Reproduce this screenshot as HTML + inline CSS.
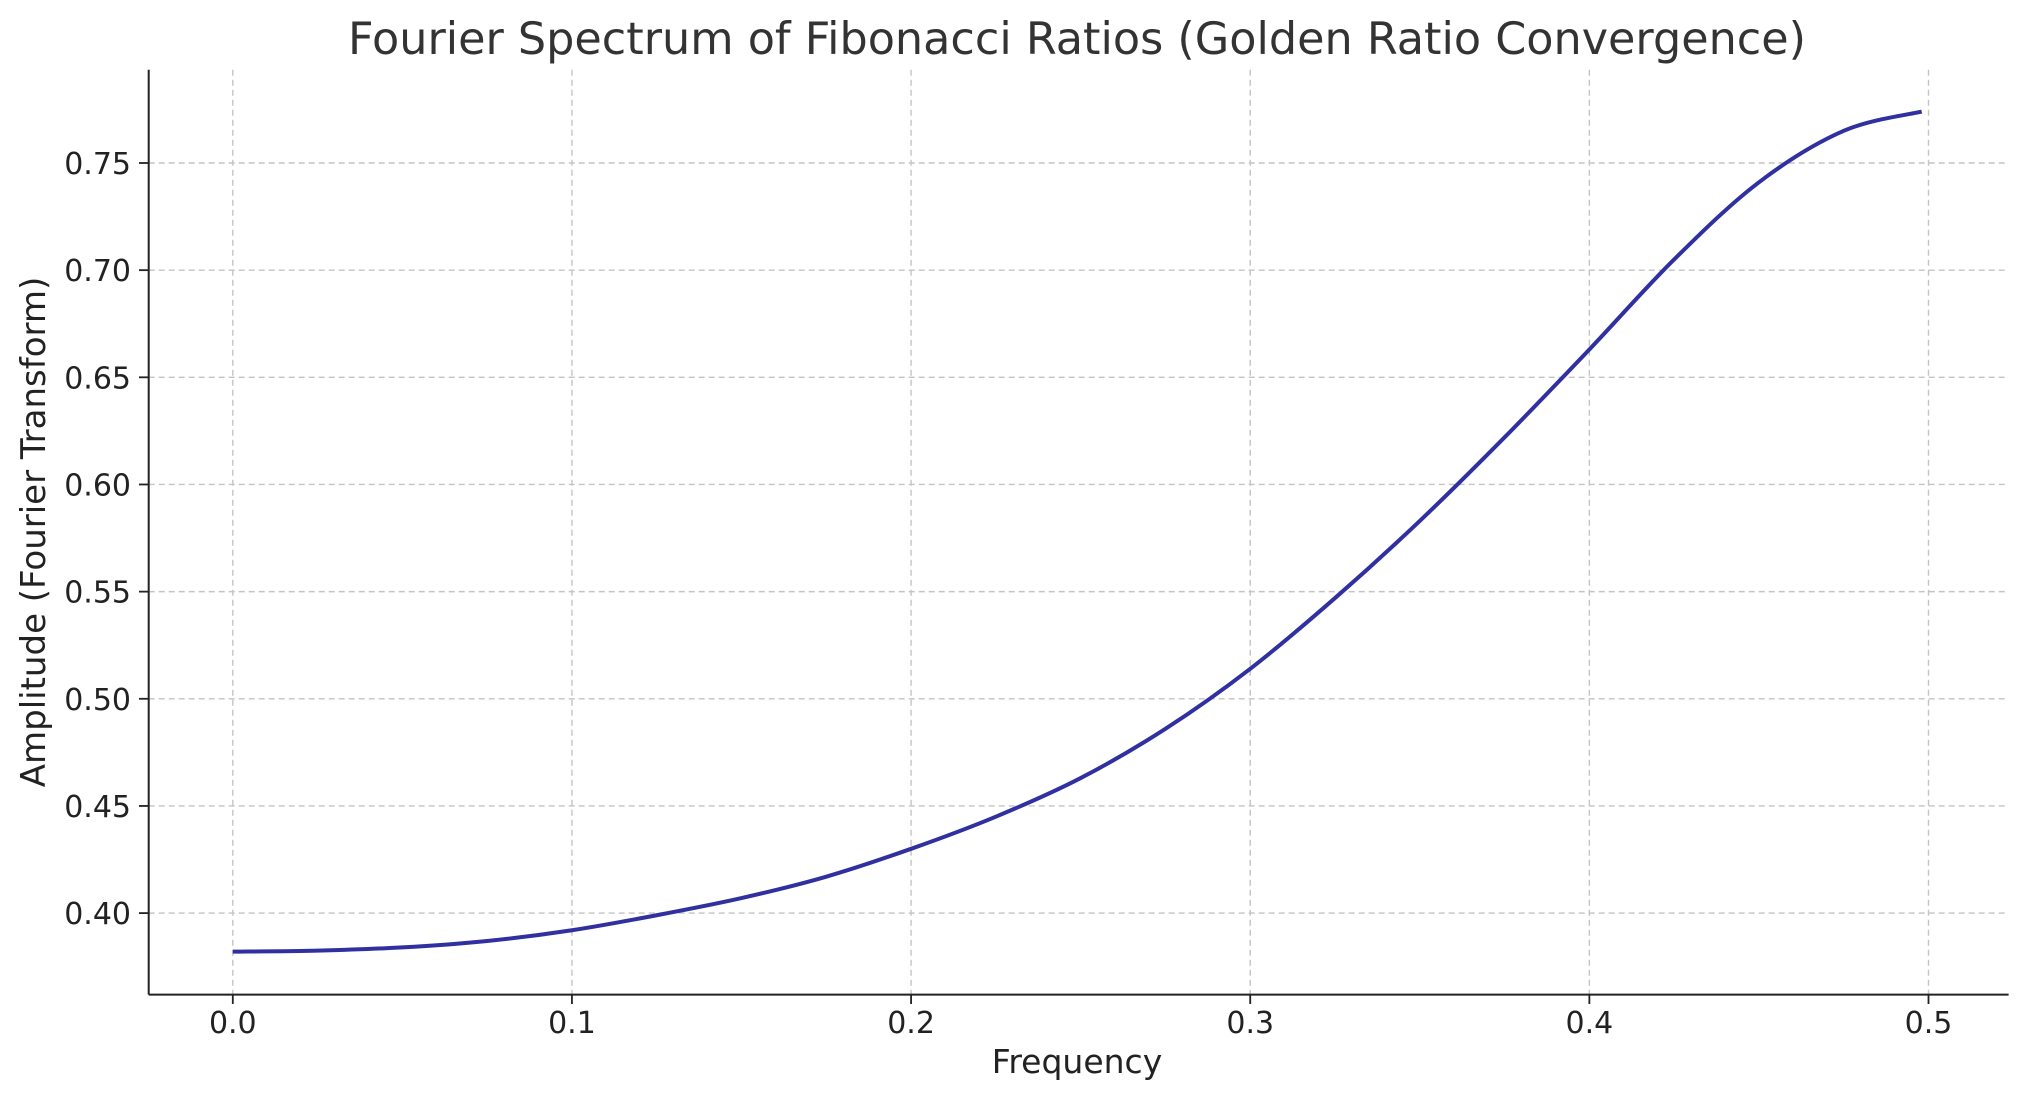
<!DOCTYPE html>
<html><head><meta charset="utf-8"><style>
html,body{margin:0;padding:0;background:#fff;}
svg{display:block;font-family:"DejaVu Sans","Liberation Sans",sans-serif;}
</style></head><body>
<svg id="chart" width="2028" height="1101" viewBox="0 0 2028 1101">
<text x="1077" y="54" font-size="44.5" fill="#333" text-anchor="middle">Fourier Spectrum of Fibonacci Ratios (Golden Ratio Convergence)</text>
<g id="grid"></g>
<g id="ticks"></g>
<path id="line" fill="none" stroke="#3030a0" stroke-width="4"/>
<line x1="148.7" y1="69.8" x2="148.7" y2="994.6" stroke="#222" stroke-width="2"/>
<line x1="148.7" y1="994.6" x2="2008.6" y2="994.6" stroke="#222" stroke-width="2"/>
<text x="1077" y="1073" font-size="33" fill="#222" text-anchor="middle">Frequency</text>
<text transform="translate(45,532) rotate(-90)" font-size="34" fill="#222" text-anchor="middle">Amplitude (Fourier Transform)</text>
</svg>
<script>
const freqs=[0,0.025,0.05,0.075,0.1,0.125,0.15,0.175,0.2,0.225,0.25,0.275,0.3,0.325,0.35,0.375,0.4,0.425,0.45,0.475,0.498];
const amps=[0.382,0.3825,0.384,0.387,0.392,0.399,0.407,0.417,0.430,0.445,0.463,0.486,0.514,0.547,0.583,0.622,0.663,0.705,0.741,0.765,0.774];
const xTicks=[0.0,0.1,0.2,0.3,0.4,0.5];
const xTickLabels=["0.0","0.1","0.2","0.3","0.4","0.5"];
const yTicks=[0.40,0.45,0.50,0.55,0.60,0.65,0.70,0.75];
const yTickLabels=["0.40","0.45","0.50","0.55","0.60","0.65","0.70","0.75"];
const NS="http://www.w3.org/2000/svg";
function xs(v){return 232.8+(v-0)*(1928.5-232.8)/0.5;}
function ys(v){return 913.1-(v-0.40)*(913.1-163)/0.35;}
const grid=document.getElementById('grid'),ticks=document.getElementById('ticks');
xTicks.forEach((t,i)=>{
 const g=document.createElementNS(NS,'line');
 
 
 g.setAttribute('x1',xs(t));g.setAttribute('x2',xs(t));g.setAttribute('y1',69.8);g.setAttribute('y2',994.6);
 g.setAttribute('stroke','#c4c4c4');g.setAttribute('stroke-dasharray','6,4');g.setAttribute('stroke-width','1.4');grid.appendChild(g);
 const tk=document.createElementNS(NS,'line');
 
 
 tk.setAttribute('x1',xs(t));tk.setAttribute('x2',xs(t));tk.setAttribute('y1',994.6);tk.setAttribute('y2',1004);tk.setAttribute('stroke','#222');tk.setAttribute('stroke-width','1.8');ticks.appendChild(tk);
 const tx=document.createElementNS(NS,'text');
 
 
 tx.setAttribute('x',xs(t));tx.setAttribute('y',1033);tx.setAttribute('font-size','30');tx.setAttribute('text-anchor','middle');tx.setAttribute('fill','#222');tx.textContent=xTickLabels[i];ticks.appendChild(tx);
});
yTicks.forEach((t,i)=>{
 const g=document.createElementNS(NS,'line');
 
 
 g.setAttribute('x1',148.7);g.setAttribute('x2',2008.6);g.setAttribute('y1',ys(t));g.setAttribute('y2',ys(t));
 g.setAttribute('stroke','#c4c4c4');g.setAttribute('stroke-dasharray','6,4');g.setAttribute('stroke-width','1.4');grid.appendChild(g);
 const tk=document.createElementNS(NS,'line');
 
 
 tk.setAttribute('x1',139);tk.setAttribute('x2',148.7);tk.setAttribute('y1',ys(t));tk.setAttribute('y2',ys(t));tk.setAttribute('stroke','#222');tk.setAttribute('stroke-width','1.8');ticks.appendChild(tk);
 const tx=document.createElementNS(NS,'text');
 
 
 tx.setAttribute('x',131);tx.setAttribute('y',ys(t)+11);tx.setAttribute('font-size','30');tx.setAttribute('text-anchor','end');tx.setAttribute('fill','#222');tx.textContent=yTickLabels[i];ticks.appendChild(tx);
});
const pts=freqs.map((f,i)=>[xs(f),ys(amps[i])]);
let d='M'+pts[0][0]+','+pts[0][1];
for(let i=0;i<pts.length-1;i++){
 const p0=pts[Math.max(0,i-1)],p1=pts[i],p2=pts[i+1],p3=pts[Math.min(pts.length-1,i+2)];
 const c1=[p1[0]+(p2[0]-p0[0])/6,p1[1]+(p2[1]-p0[1])/6];
 const c2=[p2[0]-(p3[0]-p1[0])/6,p2[1]-(p3[1]-p1[1])/6];
 d+=' C'+c1[0]+','+c1[1]+' '+c2[0]+','+c2[1]+' '+p2[0]+','+p2[1];
}
document.getElementById('line').setAttribute('d',d);
</script>
</body></html>
